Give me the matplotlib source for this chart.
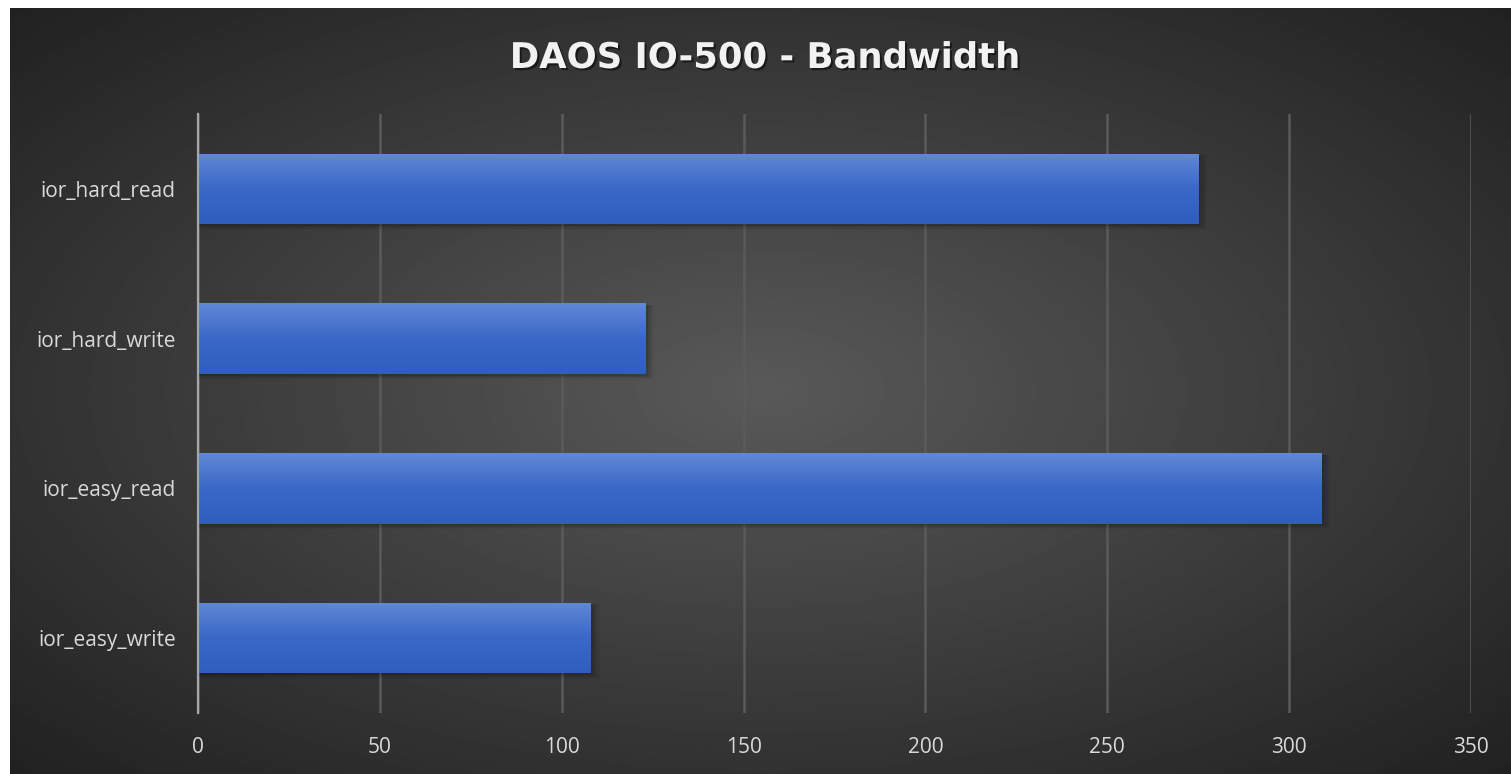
import numpy as np
import matplotlib
matplotlib.use('Agg')
import matplotlib.pyplot as plt
import matplotlib.patheffects as pe
from matplotlib.colors import LinearSegmentedColormap

categories = ['ior_easy_write', 'ior_easy_read', 'ior_hard_write', 'ior_hard_read']
bandwidth = [108, 309, 123, 275]
x_ticks = [0, 50, 100, 150, 200, 250, 300, 350]

W, H = 1511, 774
fig = plt.figure(figsize=(W / 100, H / 100), dpi=100)
fig.patch.set_facecolor('white')

# dark radial background panel
bg = fig.add_axes([10 / W, 0, (W - 10) / W, (H - 8) / H])
yy, xx = np.mgrid[0:1:300j, 0:1:600j]
r = np.sqrt(((xx - 0.5) / 0.5) ** 2 + ((yy - 0.5) / 0.5) ** 2) / np.sqrt(2)
shade = 0.35 - 0.22 * r
bg.imshow(shade, cmap='gray', vmin=0, vmax=1, aspect='auto', extent=[0, 1, 0, 1])
bg.set_axis_off()

ax = fig.add_axes([198 / W, (H - 713) / H, (1471 - 198) / W, (713 - 114) / H])
ax.patch.set_alpha(0)

y = np.arange(len(categories))
bars = ax.barh(y, bandwidth, height=0.47, color='#3d6cc8', zorder=3)

blue = LinearSegmentedColormap.from_list('bluegrad', ['#2f5ebd', '#3a68c6', '#6088d6'])
grad = np.linspace(0, 1, 100).reshape(-1, 1)
for b in bars:
    x0, y0, w, h = b.get_x(), b.get_y(), b.get_width(), b.get_height()
    # soft drop shadow
    for k, a in enumerate([0.10, 0.08, 0.06, 0.04]):
        d = 0.6 + 0.6 * k
        ax.barh(y0 + h / 2 - 0.012 - 0.004 * k, w + d, height=h + 0.01 * k,
                color='black', alpha=a, zorder=2, linewidth=0)
    im = ax.imshow(grad, cmap=blue, aspect='auto', extent=[x0, x0 + w, y0, y0 + h],
                   origin='lower', zorder=4)
    im.set_clip_path(b)

ax.set_xlim(0, 350)
ax.set_ylim(-0.5, len(categories) - 0.5)
ax.set_xticks(x_ticks)
ax.set_yticks(y)
ax.set_yticklabels(categories)
ax.grid(axis='x', color='#5a5a5a', linewidth=1.8, zorder=0)
ax.tick_params(length=0, colors='#d9d9d9', labelsize=15)
ax.tick_params(axis='y', pad=16)
ax.tick_params(axis='x', pad=17)
for lab in ax.get_xticklabels() + ax.get_yticklabels():
    lab.set_fontfamily('Open Sans')
for s in ['top', 'right', 'bottom']:
    ax.spines[s].set_visible(False)
ax.spines['left'].set_color('#a6a6a6')
ax.spines['left'].set_linewidth(1.6)
ax.spines['left'].set_zorder(5)

fig.text(765 / W, 1 - 58 / H, 'DAOS IO-500 - Bandwidth', ha='center', va='center',
         fontsize=25.5, fontweight='bold', color='#f2f2f2', family='DejaVu Sans',
         path_effects=[pe.withSimplePatchShadow(offset=(1.5, -1.5), shadow_rgbFace='black', alpha=0.5)])

fig.savefig('out.png', dpi=100, facecolor=fig.get_facecolor())
